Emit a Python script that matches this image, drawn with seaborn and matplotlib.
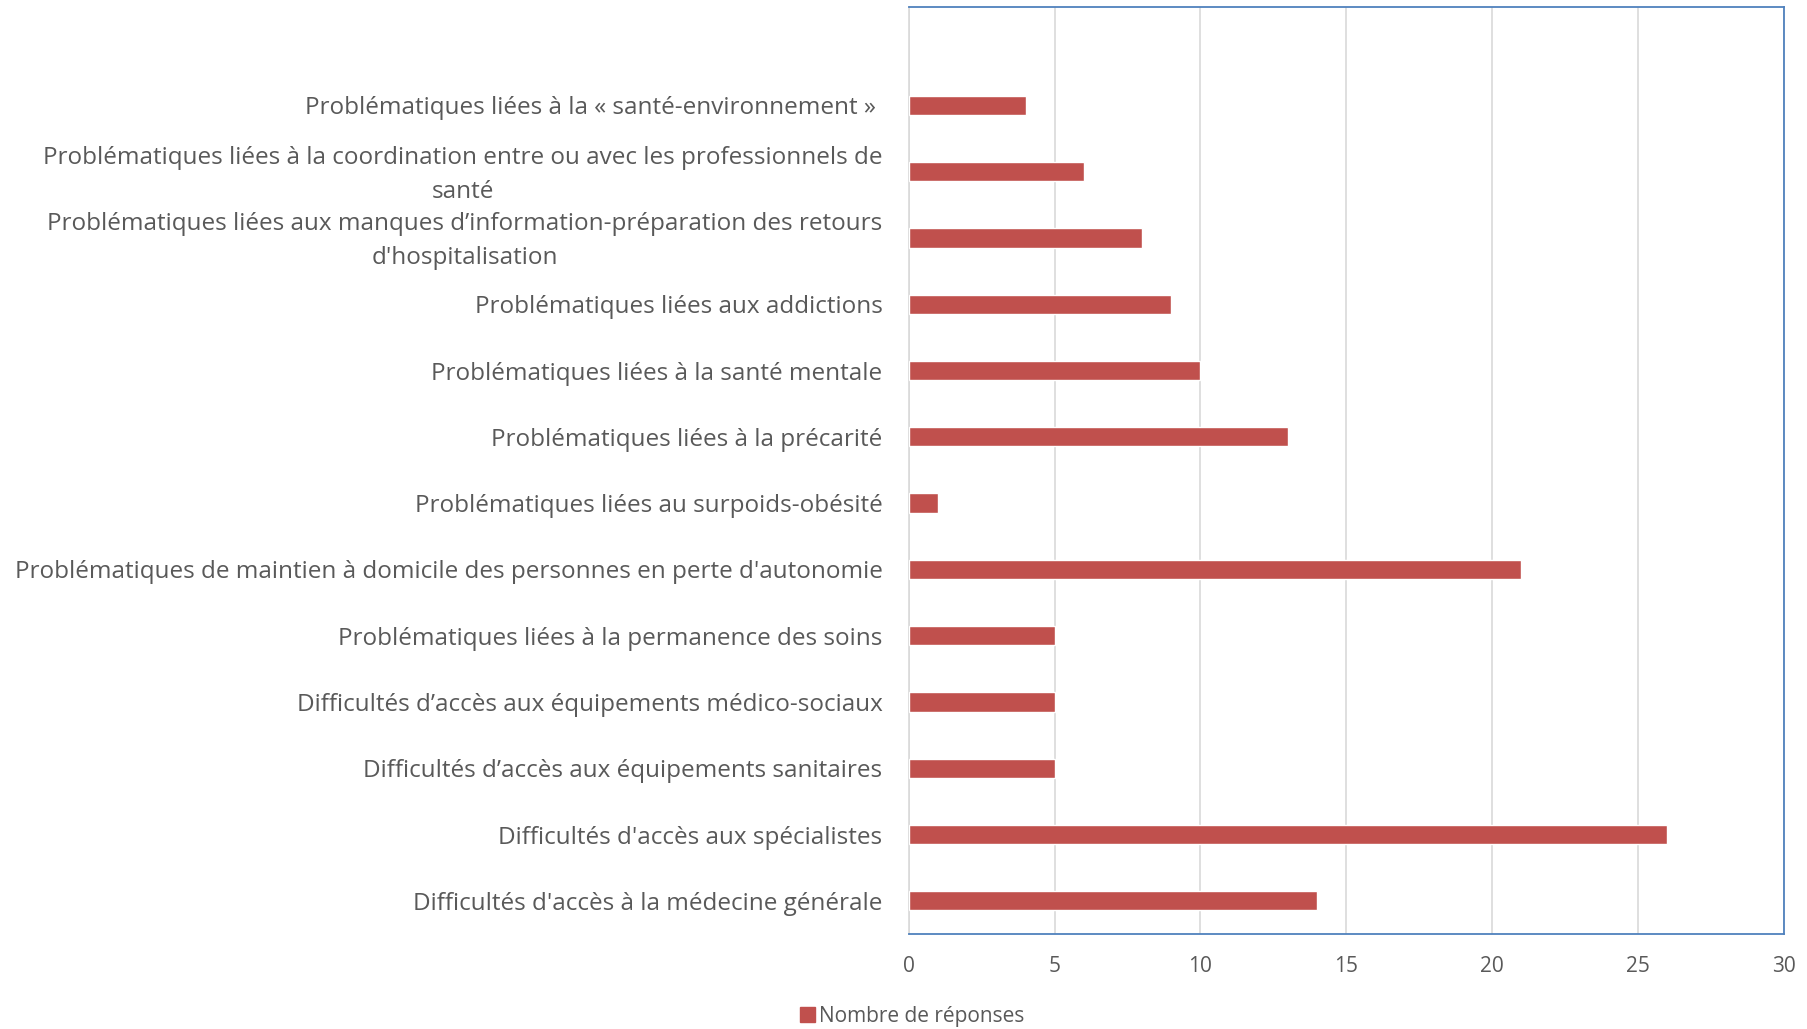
import matplotlib
matplotlib.use("Agg")
import matplotlib.pyplot as plt
import matplotlib.font_manager as fm
import matplotlib.transforms as mtransforms
from matplotlib.patches import Patch
import seaborn as sns
import pandas as pd

categories = [
    "Problématiques liées à la « santé-environnement » ",
    "Problématiques liées à la coordination entre ou avec les professionnels de\nsanté",
    "Problématiques liées aux manques d’information-préparation des retours\nd'hospitalisation",
    "Problématiques liées aux addictions",
    "Problématiques liées à la santé mentale",
    "Problématiques liées à la précarité",
    "Problématiques liées au surpoids-obésité",
    "Problématiques de maintien à domicile des personnes en perte d'autonomie",
    "Problématiques liées à la permanence des soins",
    "Difficultés d’accès aux équipements médico-sociaux",
    "Difficultés d’accès aux équipements sanitaires",
    "Difficultés d'accès aux spécialistes",
    "Difficultés d'accès à la médecine générale",
]
responses = [4, 6, 8, 9, 10, 13, 1, 21, 5, 5, 5, 26, 14]
x_ticks = [0, 5, 10, 15, 20, 25, 30]
series_name = "Nombre de réponses"

bar_color = "#C0504D"
text_color = "#595959"
grid_color = "#D9D9D9"
frame_color = "#4F81BD"

sns.set_theme(style="white")
names = {f.name for f in fm.fontManager.ttflist}
family = [f for f in ["Open Sans", "DejaVu Sans"] if f in names]
plt.rcParams["font.family"] = family

df = pd.DataFrame({"categorie": categories, "reponses": responses})

fig = plt.figure(figsize=(18.07, 10.29), dpi=100)
ax = fig.add_axes([0.503, 0.0923, 0.484, 0.9007])

sns.barplot(data=df, y="categorie", x="reponses", orient="h",
            color=bar_color, saturation=1, width=0.29, ax=ax, zorder=3)

ax.set_xlim(0, 30)
ax.set_xticks(x_ticks)
ax.set_ylim(12.5, -1.48)
ax.set_xlabel("")
ax.set_ylabel("")

ax.grid(axis="x", color=grid_color, linewidth=1.2, zorder=0)
ax.grid(axis="y", visible=False)

for side in ["top", "right", "bottom"]:
    ax.spines[side].set_color(frame_color)
    ax.spines[side].set_linewidth(1.3)
ax.spines["left"].set_color(grid_color)
ax.spines["left"].set_linewidth(1.2)

ax.tick_params(axis="y", length=0, pad=19, labelsize=17.5, labelcolor=text_color)
ax.tick_params(axis="x", length=0, pad=16, labelsize=15, labelcolor=text_color)
shift_down = mtransforms.ScaledTranslation(0, -0.03, fig.dpi_scale_trans)
for lbl in ax.get_yticklabels():
    lbl.set_multialignment("center")
    lbl.set_linespacing(1.55)
    lbl.set_verticalalignment("center")
    lbl.set_transform(lbl.get_transform() + shift_down)

fig.legend(handles=[Patch(color=bar_color, label=series_name)],
           loc="lower center", bbox_to_anchor=(0.505, -0.016), frameon=False,
           fontsize=15, labelcolor=text_color, handlelength=0.7, handleheight=0.7,
           handletextpad=0.2)

fig.savefig("out.png", dpi=100)
